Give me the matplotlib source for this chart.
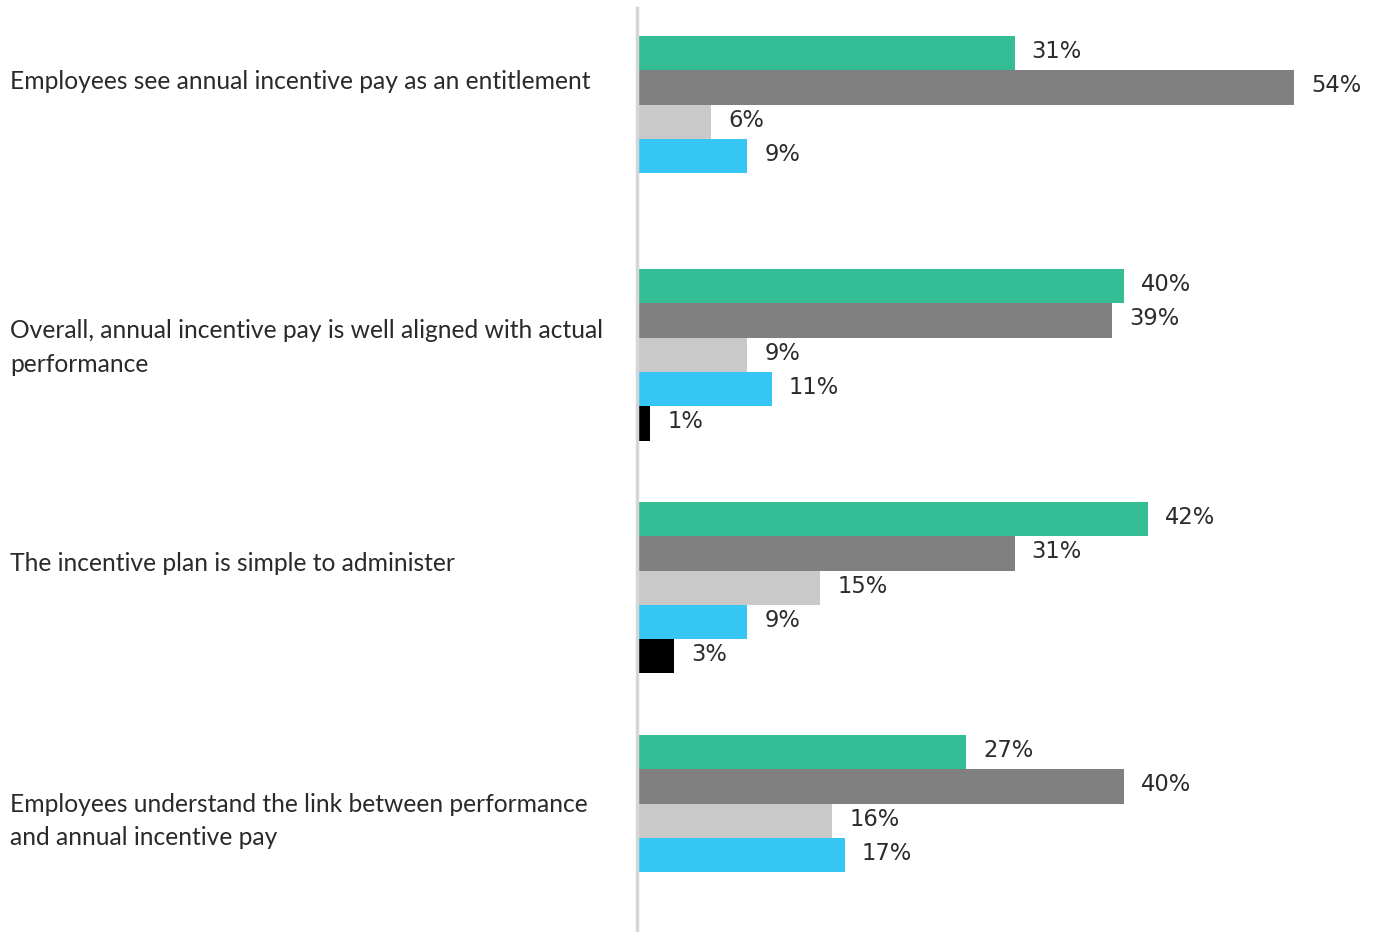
import matplotlib
matplotlib.use("Agg")
import matplotlib.pyplot as plt
import numpy as np

categories = [
    "Employees see annual incentive pay as an entitlement",
    "Overall, annual incentive pay is well aligned with actual\nperformance",
    "The incentive plan is simple to administer",
    "Employees understand the link between performance\nand annual incentive pay",
]
series_names = ["Strongly agree", "Agree", "Neutral", "Disagree", "Strongly disagree"]
strongly_agree = [31, 40, 42, 27]
agree = [54, 39, 31, 40]
neutral = [6, 9, 15, 16]
disagree = [9, 11, 9, 17]
strongly_disagree = [None, 1, 3, None]
series_values = [strongly_agree, agree, neutral, disagree, strongly_disagree]
colors = ["#34BC94", "#808080", "#C9C9C9", "#35C6F3", "#000000"]

W, H = 1378, 932
fig = plt.figure(figsize=(W / 100, H / 100), dpi=100)
slot = 34.3  # px per bar
ax_left = 638
ax_top = 8
ax = fig.add_axes([ax_left / W, 0, (W - ax_left) / W, (H - ax_top) / H])
px_per_pct = 12.15
ax.set_xlim(0, (W - ax_left) / px_per_pct)
top = -(36 - ax_top) / slot
ax.set_ylim(top + (H - ax_top) / slot, top)

group_step = 233 / slot
for j, (vals, col) in enumerate(zip(series_values, colors)):
    for i, v in enumerate(vals):
        if v is None:
            continue
        y = group_step * i + j + 0.5
        ax.barh(y, v, height=1.0, color=col, edgecolor="none")
        ax.text(v + 1.4, y - 0.05, f"{v}%", va="center", ha="left",
                fontsize=16.3, color="#2b2b2b", family="DejaVu Sans")

for s in ["top", "right", "bottom"]:
    ax.spines[s].set_visible(False)
ax.spines["left"].set_color("#D6D6D6")
ax.spines["left"].set_linewidth(2.5)
ax.spines["left"].set_position(("outward", 1))
ax.set_xticks([])
ax.set_yticks([])

label_offsets = [1.33, 2.29, 1.78, 2.5]
for i, (cat, off) in enumerate(zip(categories, label_offsets)):
    y_data = group_step * i + off
    y_px = ax_top + (y_data - top) * slot
    fig.text(10 / W, 1 - y_px / H, cat, ha="left", va="center",
             fontsize=17.7, family="Lato", fontweight="normal", color="#2a2a2a",
             linespacing=1.55)

fig.savefig("out.png", dpi=100)
